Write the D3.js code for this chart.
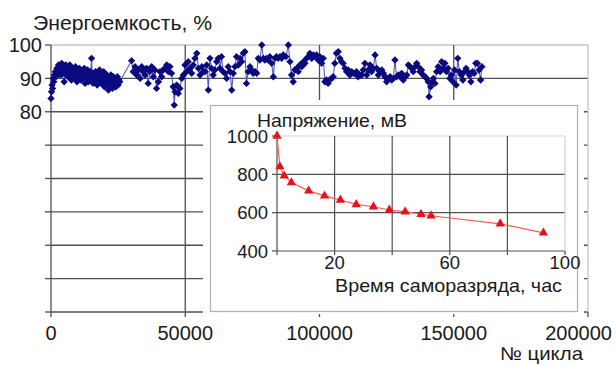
<!DOCTYPE html>
<html>
<head>
<meta charset="utf-8">
<script src="https://cdn.jsdelivr.net/npm/d3@7"></script>
<style>
  html, body { margin: 0; padding: 0; background: #fff; }
  svg { display: block; font-family: "Liberation Sans", Arial, sans-serif; }
</style>
</head>
<body>
<svg id="chart" width="616" height="365"></svg>
<script>
// Energy capacity (%) versus cycle number
const cycleNo = [
  0, 200, 400, 600, 800, 1000, 1300, 1600, 1900, 2200, 2500, 2800, 3100, 3400, 3700, 4000, 4300, 4600, 4900, 5200,
  5500, 5800, 6100, 6400, 6700, 7000, 7300, 7600, 7900, 8200, 8500, 8800, 9100, 9400, 9700, 10000, 10300, 10600, 10900, 11200,
  11500, 11800, 12100, 12400, 12700, 13000, 13300, 13600, 13900, 14200, 14500, 14800, 15100, 15400, 15700, 16000, 16300, 16600, 16900, 17200,
  17500, 17800, 18100, 18400, 18700, 19000, 19300, 19600, 19900, 20200, 20500, 20800, 21100, 21400, 21700, 22000, 22300, 22600, 22900, 23200,
  23500, 23800, 24100, 24400, 24700, 25000, 25300, 25600,
  30000, 30600, 31300, 31900, 32500, 33200, 33800, 34400, 35000, 35600, 36200, 36800, 37500, 38100, 38700, 39300, 40000, 40600, 41200, 41800,
  42400, 43100, 43700, 44300, 44900, 45500, 45900, 46200, 46800, 47400, 48000, 48700, 49300, 49900, 50500, 51100, 51800, 52400, 53000, 53600,
  54300, 54900,
  55500, 56200, 56800, 57400, 58000, 58600, 59200, 59800, 60400, 61000, 61700, 62300, 62900, 63500, 64100, 64800, 65400, 66000, 66700, 67300,
  67900, 68500, 69100, 69800, 70400, 71000, 71600, 72200, 72800, 73400, 74100, 74700, 75300, 76000, 76600, 77200, 77800, 78500, 79100, 79700,
  80300, 80900, 81500, 82200, 82800, 83400, 84000, 84600, 85300, 85900, 86500, 87500, 88400,
  89000, 89600, 90200, 90800, 91500, 92100, 92700, 93400, 94000, 94600, 95200, 95800, 96400, 97100, 97700, 98300, 98900, 99500, 100100, 100800,
  101400, 102000, 102600, 103200, 103800, 104500, 105100, 105700, 106300, 107000, 107600, 108200, 108800, 109500, 110100, 110700, 111300, 112000, 112600, 113200,
  113800, 114400, 115000, 115700,
  116300, 116900, 117600, 118200, 118800, 119400, 120000, 120700, 121300, 121900, 122500, 123200, 123800, 124400, 125000, 125600, 126300, 126900, 127500, 128100,
  128700, 129400, 130000, 130600, 131200, 131900, 132500, 133100, 133700, 134300, 134900, 135600, 136200, 136800, 137400, 138000, 138600, 139300, 139900, 140500,
  140800, 141400, 142000, 142400, 143000, 143600, 144200, 144900, 145500, 146100,
  146700, 147300, 147900, 148500, 149100, 149700, 150300, 150900, 151500, 152100, 152800, 153400, 154000, 154600, 155200, 155800, 156400, 157000, 157600, 158200,
  158800, 159400, 160000, 160500
];
const energyPct = [
  84, 86, 88, 87, 90, 89, 91, 92, 90.5, 93, 91.5, 94, 92.5, 93.5, 91, 94.5, 92, 93, 89, 92.5,
  94, 91, 93.5, 90.5, 92, 94, 91.5, 89.5, 93, 91, 92.5, 90, 93.5, 91, 89, 92, 90.5, 93, 91.5, 89.5,
  92, 90, 91.5, 93, 88.5, 91, 90, 92.5, 89, 91, 90, 92, 96, 90, 88.5, 91.5, 89.5, 92, 90, 88,
  91, 89.5, 92.5, 90, 88.5, 91, 89, 92, 87.5, 90.5, 88, 91, 89, 86.5, 90, 88, 91, 89.5, 87, 90.5,
  88.5, 90, 87.5, 89, 90.5, 88, 89.5, 89,
  95.3, 92, 93.5, 91, 92.5, 90, 93.5, 92, 91, 93, 88.5, 92, 93.5, 90.5, 92.5, 87, 89, 92, 90.5, 92.5,
  93, 94, 92, 93.5, 91.5, 87.5, 82, 86, 88, 85.5, 87, 90, 91, 94, 92, 95, 93, 91.5, 94, 96,
  97.5, 93,
  91, 93.5, 92, 92, 94, 86.5, 96, 93, 91, 92.5, 95, 96, 93, 96.5, 92, 91.5, 90, 93.5, 92, 86.5,
  91.5, 93.5, 96.5, 94, 96, 95, 97.5, 98, 88.5, 92, 93.5, 92.5, 91.5, 92, 91.5, 96, 95.5, 100, 96, 95.5,
  96, 95.5, 96.5, 94.5, 90.5, 96, 96.5, 96, 96.5, 96, 97, 96.5, 100,
  95, 91, 89, 92.5, 93, 92, 94, 93.5, 95, 94.5, 96, 96.5, 97.5, 96, 97, 96.5, 97, 95.5, 96.5, 94.5,
  96, 89, 89.5, 88.5, 89.5, 90, 90.5, 94.5, 97.5, 98, 96, 95, 94.5, 93, 92, 92.5, 91, 92, 91.5, 91.5,
  92, 90.5, 91, 91,
  92.5, 94.5, 91, 92.5, 94, 92, 93, 97, 93, 91, 92, 92.5, 91.5, 90.5, 89, 90, 90.5, 89.5, 90, 95.5,
  90.5, 91, 90.5, 91.5, 89.5, 90.5, 91, 94, 93.5, 93, 92, 93.5, 94.5, 93.5, 92, 92.5, 91, 90.5, 90, 89,
  84.5, 87.5, 89, 90, 88.5, 92, 93.5, 92, 95, 93,
  94.5, 92, 93, 90, 91, 89, 92.5, 88, 96, 92, 91, 89.5, 92, 93, 92, 91, 89, 92, 91.5, 94.5,
  94.5, 92.5, 89.5, 93.5
];
const cycleTicks = [0, 50000, 100000, 150000, 200000];
const energyTicks = [20, 30, 40, 50, 60, 70, 80, 90, 100];
const energyTickLabels = ["", "", "", "", "", "", "80", "90", "100"];

// Inset: voltage (mV) versus self-discharge time (h)
const dischargeHours = [0, 1, 2.5, 5, 11, 16.5, 22, 27.5, 33.5, 39, 44.5, 50, 53.5, 77.5, 92.5];
const voltageMv = [1000, 840, 792, 757, 714, 688, 666, 643, 631, 614, 605, 592, 584, 542, 495];
const hourTicks = [0, 20, 40, 60, 80, 100];
const hourTickLabels = ["", "20", "", "60", "", "100"];
const voltageTicks = [400, 600, 800, 1000];

const GRID = "#505050";
const FRAME = "#c4c4c4";
const INK = "#1a1a1a";

const svg = d3.select("#chart");

// ---------- main chart ----------
const x = d3.scaleLinear().domain([0, 200000]).range([51, 588]);
const y = d3.scaleLinear().domain([20, 100]).range([312, 45]);

const main = svg.append("g");

// horizontal grid (with the outer tick stub), top edge drawn as light frame
energyTicks.forEach(v => {
  const top = v === 100;
  main.append("line")
    .attr("x1", x(0) - 6).attr("x2", x(0))
    .attr("y1", y(v)).attr("y2", y(v))
    .attr("stroke", GRID).attr("stroke-width", 1.3);
  main.append("line")
    .attr("x1", x(0)).attr("x2", x(200000))
    .attr("y1", y(v)).attr("y2", y(v))
    .attr("stroke", top ? FRAME : GRID).attr("stroke-width", 1.3);
});

// vertical grid
cycleTicks.forEach(c => {
  const edge = c === 200000;
  main.append("line")
    .attr("x1", x(c)).attr("x2", x(c))
    .attr("y1", y(100)).attr("y2", y(20))
    .attr("stroke", edge ? FRAME : GRID).attr("stroke-width", 1.3);
  main.append("line")
    .attr("x1", x(c)).attr("x2", x(c))
    .attr("y1", y(20)).attr("y2", y(20) + 5)
    .attr("stroke", GRID).attr("stroke-width", 1.3);
});

// y tick labels
main.selectAll("text.ylab")
  .data(energyTicks.map((v, i) => ({ v, t: energyTickLabels[i] })).filter(d => d.t))
  .join("text")
  .attr("x", 42).attr("y", d => y(d.v)).attr("dy", "0.36em")
  .attr("text-anchor", "end").attr("font-size", 20).attr("fill", INK)
  .text(d => d.t);

// x tick labels (last one kept inside the canvas)
main.selectAll("text.xlab")
  .data(cycleTicks)
  .join("text")
  .attr("x", d => d === 200000 ? 612 : x(d))
  .attr("y", 340)
  .attr("text-anchor", d => d === 200000 ? "end" : "middle")
  .attr("font-size", 20).attr("fill", INK)
  .text(d => d3.format("d")(d));

main.append("text")
  .attr("x", 33).attr("y", 29.5)
  .attr("font-size", 20).attr("fill", INK)
  .attr("textLength", 179).attr("lengthAdjust", "spacingAndGlyphs")
  .text("Энергоемкость, %");

main.append("text")
  .attr("x", 500).attr("y", 360)
  .attr("font-size", 18.5).attr("fill", INK)
  .attr("textLength", 83).attr("lengthAdjust", "spacingAndGlyphs")
  .text("№ цикла");

// capacity series
const pts = cycleNo.map((c, i) => [c, energyPct[i]]);
main.append("path")
  .datum(pts)
  .attr("fill", "none")
  .attr("stroke", "#5a5ab8")
  .attr("stroke-width", 1.1)
  .attr("d", d3.line().x(d => x(d[0])).y(d => y(d[1])));

const diamond = d3.symbol().type(d3.symbolSquare).size(27);
main.selectAll("path.mk")
  .data(pts)
  .join("path")
  .attr("transform", d => `translate(${x(d[0])},${y(d[1])}) rotate(45)`)
  .attr("d", diamond)
  .attr("fill", "#0a0a80");

// ---------- inset ----------
const inset = svg.append("g");
inset.append("rect")
  .attr("x", 203).attr("y", 100).attr("width", 381).attr("height", 214)
  .attr("fill", "#fff");
inset.append("rect")
  .attr("x", 210.5).attr("y", 105.5).attr("width", 367).attr("height", 206)
  .attr("fill", "#fff").attr("stroke", "#b0b0b0").attr("stroke-width", 1.2);

const ix = d3.scaleLinear().domain([0, 100]).range([277, 565]);
const iy = d3.scaleLinear().domain([400, 1000]).range([251, 136]);

voltageTicks.forEach(v => {
  const top = v === 1000;
  inset.append("line")
    .attr("x1", ix(0) - 5).attr("x2", ix(0))
    .attr("y1", iy(v)).attr("y2", iy(v))
    .attr("stroke", GRID).attr("stroke-width", 1.2);
  inset.append("line")
    .attr("x1", ix(0)).attr("x2", ix(100))
    .attr("y1", iy(v)).attr("y2", iy(v))
    .attr("stroke", top ? "#cdd3dc" : GRID).attr("stroke-width", 1.2);
});
hourTicks.forEach(h => {
  const edge = h === 100;
  inset.append("line")
    .attr("x1", ix(h)).attr("x2", ix(h))
    .attr("y1", iy(1000)).attr("y2", iy(400))
    .attr("stroke", edge ? "#cdd3dc" : GRID).attr("stroke-width", 1.2);
  inset.append("line")
    .attr("x1", ix(h)).attr("x2", ix(h))
    .attr("y1", iy(400)).attr("y2", iy(400) + 4)
    .attr("stroke", GRID).attr("stroke-width", 1.2);
});

inset.selectAll("text.iy")
  .data(voltageTicks)
  .join("text")
  .attr("x", 268).attr("y", d => iy(d)).attr("dy", "0.36em")
  .attr("text-anchor", "end").attr("font-size", 18.5).attr("fill", INK)
  .text(d => d);

inset.selectAll("text.ix")
  .data(hourTicks.map((h, i) => ({ h, t: hourTickLabels[i] })).filter(d => d.t))
  .join("text")
  .attr("x", d => ix(d.h)).attr("y", 269)
  .attr("text-anchor", "middle").attr("font-size", 18.5).attr("fill", INK)
  .text(d => d.t);

inset.append("text")
  .attr("x", 257).attr("y", 127)
  .attr("font-size", 18.5).attr("fill", INK)
  .attr("textLength", 150).attr("lengthAdjust", "spacingAndGlyphs")
  .text("Напряжение, мВ");

inset.append("text")
  .attr("x", 335).attr("y", 291.5)
  .attr("font-size", 18.5).attr("fill", INK)
  .attr("textLength", 227).attr("lengthAdjust", "spacingAndGlyphs")
  .text("Время саморазряда, час");

const vpts = dischargeHours.map((h, i) => [h, voltageMv[i]]);
inset.append("path")
  .datum(vpts)
  .attr("fill", "none")
  .attr("stroke", "#ff5a5a")
  .attr("stroke-width", 1.2)
  .attr("d", d3.line().x(d => ix(d[0])).y(d => iy(d[1])));

inset.selectAll("path.tri")
  .data(vpts)
  .join("path")
  .attr("transform", d => `translate(${ix(d[0])},${iy(d[1])})`)
  .attr("d", d3.symbol().type(d3.symbolTriangle).size(38))
  .attr("fill", "#e8101a");
</script>
</body>
</html>
